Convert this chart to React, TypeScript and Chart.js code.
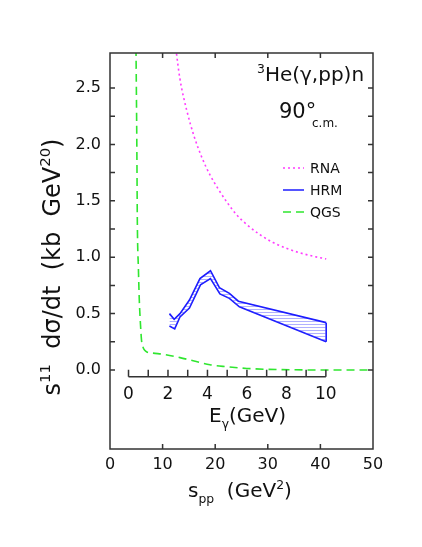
import React, { useEffect, useRef } from 'react';
import { Chart, registerables } from 'chart.js';

Chart.register(...registerables);

// s_pp (GeV^2) and s^11 dσ/dt values
const qgsS = [4.85, 4.95, 5.1, 5.2, 5.4, 5.57, 5.8, 6.0, 6.3, 6.6, 7.0, 8.2, 10, 13.3, 16, 19, 22, 26, 30, 35, 40, 50];
const qgsV = [3.2, 2.8, 2.0, 1.3, 0.9, 0.62, 0.4, 0.26, 0.2, 0.175, 0.16, 0.15, 0.14, 0.11, 0.08, 0.047, 0.03, 0.014, 0.006, 0.002, 0.0, 0.0];

const rnaS = [12.2, 12.6, 13.3, 14.6, 16.0, 17.5, 19.0, 20.5, 22.2, 24.0, 26.0, 28.5, 31.0, 33.5, 36.0, 38.5, 41.1];
const rnaV = [2.98, 2.82, 2.58, 2.3, 2.07, 1.88, 1.73, 1.61, 1.49, 1.38, 1.29, 1.2, 1.13, 1.08, 1.04, 1.01, 0.985];

const hrmUpS = [11.3, 12.2, 13.3, 15.1, 17.1, 19.1, 20.8, 22.7, 24.4, 41.1];
const hrmUpV = [0.5, 0.45, 0.5, 0.62, 0.81, 0.88, 0.73, 0.68, 0.61, 0.42];
const hrmLoS = [11.3, 12.3, 13.3, 15.1, 17.2, 19.1, 20.9, 22.7, 24.6, 41.1];
const hrmLoV = [0.39, 0.365, 0.47, 0.55, 0.755, 0.81, 0.675, 0.635, 0.56, 0.25];

const xTickVals = [0, 10, 20, 30, 40, 50];
const yTickVals = [0, 0.5, 1.0, 1.5, 2.0, 2.5];
const yMinorVals = [0, 0.25, 0.5, 0.75, 1.0, 1.25, 1.5, 1.75, 2.0, 2.25, 2.5];
const xFrameTicks = [10, 20, 30, 40];
const eTickVals = [0, 1, 2, 3, 4, 5, 6, 7, 8, 9, 10];
const eLabelVals = [0, 2, 4, 6, 8, 10];
const legendLabels = ['RNA', 'HRM', 'QGS'];

const FONT = '"DejaVu Sans", "Liberation Sans", sans-serif';
const INK = '#111';
const GREEN = '#2fe62f';
const MAGENTA = '#ff3cff';
const BLUE = '#1c1cff';

// photon energy -> s_pp for pp pair at rest in 3He
const eToS = (e: number) => 3.52 + 3.752 * e;

type Run = { t: string; k?: 'sup' | 'sub' };

function runsWidth(ctx: CanvasRenderingContext2D, runs: Run[], size: number) {
  let w = 0;
  for (const r of runs) {
    const s = r.k ? size * 0.62 : size;
    ctx.font = `${s}px ${FONT}`;
    w += ctx.measureText(r.t).width;
  }
  return w;
}

function drawRuns(ctx: CanvasRenderingContext2D, runs: Run[], x: number, y: number, size: number) {
  let cx = x;
  ctx.textBaseline = 'alphabetic';
  ctx.textAlign = 'left';
  for (const r of runs) {
    const s = r.k ? size * 0.62 : size;
    ctx.font = `${s}px ${FONT}`;
    const dy = r.k === 'sup' ? -size * 0.42 : r.k === 'sub' ? size * 0.32 : 0;
    ctx.fillText(r.t, cx, y + dy);
    cx += ctx.measureText(r.t).width;
  }
  return cx;
}

const decorPlugin = {
  id: 'decor',
  afterDraw(chart: any) {
    const { ctx, chartArea: a, scales } = chart;
    const xs = scales.x;
    const ys = scales.y;
    ctx.save();
    ctx.strokeStyle = '#333';
    ctx.fillStyle = INK;
    ctx.lineWidth = 1.5;
    // frame
    ctx.strokeRect(a.left, a.top, a.right - a.left, a.bottom - a.top);
    // inward ticks
    ctx.beginPath();
    for (const v of yMinorVals) {
      const py = ys.getPixelForValue(v);
      ctx.moveTo(a.left, py); ctx.lineTo(a.left + 5, py);
      ctx.moveTo(a.right, py); ctx.lineTo(a.right - 5, py);
    }
    for (const v of xFrameTicks) {
      const px = xs.getPixelForValue(v);
      ctx.moveTo(px, a.bottom); ctx.lineTo(px, a.bottom - 5);
      ctx.moveTo(px, a.top); ctx.lineTo(px, a.top + 5);
    }
    ctx.stroke();

    // inner E_gamma axis
    const ey = ys.getPixelForValue(-0.06);
    ctx.beginPath();
    ctx.moveTo(xs.getPixelForValue(eToS(0)), ey);
    ctx.lineTo(xs.getPixelForValue(eToS(10)), ey);
    for (const e of eTickVals) {
      const px = xs.getPixelForValue(eToS(e));
      ctx.moveTo(px, ey); ctx.lineTo(px, ey - 7);
    }
    ctx.stroke();
    ctx.font = `17px ${FONT}`;
    ctx.textAlign = 'center';
    ctx.textBaseline = 'alphabetic';
    for (const e of eLabelVals) {
      ctx.fillText(String(e), xs.getPixelForValue(eToS(e)), ey + 22);
    }
    drawRuns(ctx, [{ t: 'E' }, { t: 'γ', k: 'sub' }, { t: '(GeV)' }], 209, 422, 20);

    // x title
    drawRuns(ctx, [{ t: 's' }, { t: 'pp', k: 'sub' }, { t: '  (GeV' }, { t: '2', k: 'sup' }, { t: ')' }], 188, 497, 20);

    // y title (rotated)
    const yRuns: Run[] = [
      { t: 's' }, { t: '11', k: 'sup' }, { t: '  dσ/dt  (kb  GeV' }, { t: '20', k: 'sup' }, { t: ')' },
    ];
    ctx.save();
    ctx.translate(60, 267);
    ctx.rotate(-Math.PI / 2);
    const w = runsWidth(ctx, yRuns, 24);
    drawRuns(ctx, yRuns, -w / 2, 0, 24);
    ctx.restore();

    // reaction label
    drawRuns(ctx, [{ t: '3', k: 'sup' }, { t: 'He(γ,pp)n' }], 257, 81, 20);
    drawRuns(ctx, [{ t: '90°' }], 279, 118, 21);
    ctx.font = `12px ${FONT}`;
    ctx.textAlign = 'left';
    ctx.fillText('c.m.', 312, 127);

    // legend
    const ds = chart.data.datasets;
    const rows = [168, 190, 212];
    legendLabels.forEach((lab, i) => {
      const d = ds.find((q: any) => q.label === lab);
      ctx.save();
      ctx.strokeStyle = d.borderColor;
      ctx.lineWidth = 1.5;
      ctx.setLineDash(d.borderDash || []);
      ctx.beginPath();
      ctx.moveTo(283, rows[i]);
      ctx.lineTo(304, rows[i]);
      ctx.stroke();
      ctx.restore();
      ctx.font = `14px ${FONT}`;
      ctx.fillStyle = INK;
      ctx.textAlign = 'left';
      ctx.textBaseline = 'middle';
      ctx.fillText(lab, 310, rows[i] + 1);
    });
    ctx.restore();
  },
};

export default function App() {
  const ref = useRef<HTMLCanvasElement | null>(null);
  useEffect(() => {
    document.body.style.margin = '0';
    const canvas = ref.current!;
    const ctx = canvas.getContext('2d')!;
    const pc = document.createElement('canvas');
    pc.width = 4; pc.height = 3;
    const pctx = pc.getContext('2d')!;
    pctx.fillStyle = 'rgba(80,80,255,0.45)';
    pctx.fillRect(0, 0, 4, 1);
    const hatch = ctx.createPattern(pc, 'repeat');

    const pts = (xs: number[], ys: number[]) => xs.map((x, i) => ({ x, y: ys[i] }));
    const last = hrmUpS.length - 1;

    const chart = new Chart(canvas, {
      type: 'line',
      data: {
        datasets: [
          { label: 'QGS', data: pts(qgsS, qgsV), borderColor: GREEN, borderWidth: 1.6, borderDash: [8, 5], pointRadius: 0, cubicInterpolationMode: 'monotone', fill: false },
          { label: 'RNA', data: pts(rnaS, rnaV), borderColor: MAGENTA, borderWidth: 1.6, borderDash: [2, 3], pointRadius: 0, cubicInterpolationMode: 'monotone', fill: false },
          { label: 'HRM', data: pts(hrmUpS, hrmUpV), borderColor: BLUE, borderWidth: 1.6, pointRadius: 0, fill: '+1', backgroundColor: hatch as any },
          { label: 'HRM-low', data: pts(hrmLoS, hrmLoV), borderColor: BLUE, borderWidth: 1.6, pointRadius: 0, fill: false },
          { label: 'HRM-end', data: [{ x: hrmLoS[last], y: hrmLoV[last] }, { x: hrmUpS[last], y: hrmUpV[last] }], borderColor: BLUE, borderWidth: 1.6, pointRadius: 0, fill: false },
        ],
      },
      options: {
        animation: false,
        responsive: false,
        devicePixelRatio: 1,
        layout: { padding: { top: 53, right: 49, left: 0, bottom: 0 } },
        plugins: { legend: { display: false }, tooltip: { enabled: false } },
        scales: {
          x: {
            type: 'linear', min: 0, max: 50,
            grid: { display: false, drawTicks: false },
            border: { display: false },
            afterBuildTicks: (s: any) => { s.ticks = xTickVals.map((v) => ({ value: v })); },
            afterFit: (s: any) => { s.height = 98; },
            ticks: { font: { family: FONT, size: 16 }, color: INK, padding: 6, maxRotation: 0 },
          },
          y: {
            type: 'linear', min: -0.7, max: 2.81,
            grid: { display: false, drawTicks: false },
            border: { display: false },
            afterBuildTicks: (s: any) => { s.ticks = yTickVals.map((v) => ({ value: v })); },
            afterFit: (s: any) => { s.width = 110; },
            ticks: { font: { family: FONT, size: 16 }, color: INK, padding: 9, callback: (v: any) => Number(v).toFixed(1) },
          },
        },
      } as any,
      plugins: [decorPlugin],
    });
    return () => chart.destroy();
  }, []);
  return (
    <div style={{ width: 422, height: 547, background: '#fff' }}>
      <canvas ref={ref} width={422} height={547} />
    </div>
  );
}
